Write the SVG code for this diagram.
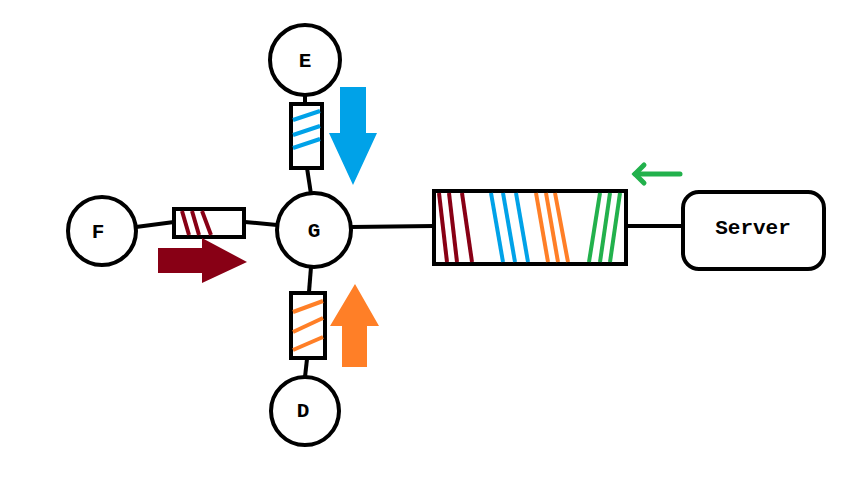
<svg xmlns="http://www.w3.org/2000/svg" width="850" height="481" viewBox="0 0 850 481">
<style>
.node{fill:#fff;stroke:#000;stroke-width:4}
.lbl{font-family:"Liberation Mono",monospace;font-weight:bold;font-size:21px;text-anchor:middle;dominant-baseline:central;fill:#000}
.wire{stroke:#000;stroke-width:4;fill:none}
.res{fill:#fff;stroke:#000;stroke-width:4}
.m{stroke:#880015;stroke-width:4}
.b{stroke:#00A2E8;stroke-width:4}
.o{stroke:#FF7F27;stroke-width:4}
.g{stroke:#22B14C;stroke-width:4}
</style>
<rect width="850" height="481" fill="#fff"/>
<g id="connectors">
<line class="wire" x1="305" y1="94" x2="305" y2="104"/>
<line class="wire" x1="307" y1="168" x2="311" y2="194"/>
<line class="wire" x1="136" y1="227" x2="174" y2="222"/>
<line class="wire" x1="245" y1="222" x2="277" y2="225"/>
<line class="wire" x1="311" y1="267" x2="309" y2="292"/>
<line class="wire" x1="307" y1="359" x2="305" y2="377"/>
<line class="wire" x1="351" y1="227" x2="434" y2="226"/>
<line class="wire" x1="627" y1="226" x2="683" y2="226"/>
</g>
<g id="res-E">
<rect class="res" x="291" y="104" width="31" height="64"/>
<line class="b" x1="293" y1="120" x2="320" y2="111"/>
<line class="b" x1="293" y1="135" x2="320" y2="126"/>
<line class="b" x1="293" y1="148" x2="320" y2="139"/>
</g>
<g id="res-F">
<rect class="res" x="174" y="209" width="70" height="28"/>
<line class="m" x1="182" y1="211" x2="189" y2="235"/>
<line class="m" x1="192" y1="211" x2="199" y2="235"/>
<line class="m" x1="202" y1="211" x2="211" y2="235"/>
</g>
<g id="res-D">
<rect class="res" x="291" y="293" width="34" height="65"/>
<line class="o" x1="293" y1="312" x2="323" y2="301"/>
<line class="o" x1="293" y1="332" x2="323" y2="318"/>
<line class="o" x1="293" y1="350" x2="323" y2="337"/>
</g>
<g id="queue">
<rect class="res" x="434" y="191" width="192" height="73"/>
<line class="m" x1="439" y1="193" x2="447" y2="262"/>
<line class="m" x1="449" y1="193" x2="457" y2="262"/>
<line class="m" x1="462" y1="193" x2="472" y2="262"/>
<line class="b" x1="491" y1="193" x2="503" y2="262"/>
<line class="b" x1="503" y1="193" x2="515" y2="262"/>
<line class="b" x1="516" y1="193" x2="528" y2="262"/>
<line class="o" x1="536" y1="193" x2="548" y2="262"/>
<line class="o" x1="546" y1="193" x2="558" y2="262"/>
<line class="o" x1="555" y1="193" x2="568" y2="262"/>
<line class="g" x1="600" y1="193" x2="589" y2="262"/>
<line class="g" x1="610" y1="193" x2="600" y2="262"/>
<line class="g" x1="620" y1="193" x2="610" y2="262"/>
</g>
<g id="node-E"><circle class="node" cx="305" cy="60" r="35"/><text class="lbl" x="305" y="61">E</text></g>
<g id="node-F"><circle class="node" cx="102" cy="231" r="34"/><text class="lbl" x="98" y="232">F</text></g>
<g id="node-G"><circle class="node" cx="314" cy="230" r="37"/><text class="lbl" x="314" y="231">G</text></g>
<g id="node-D"><circle class="node" cx="305" cy="411" r="34"/><text class="lbl" x="303" y="411">D</text></g>
<g id="node-Server"><rect class="node" x="683" y="192" width="141" height="77" rx="16"/><text class="lbl" x="753" y="228">Server</text></g>
<g id="arrows">
<polygon fill="#00A2E8" points="340,87 366,87 366,133 377,133 353,185 329,133 340,133"/>
<polygon fill="#880015" points="158,248 202,248 202,238 247,262 202,283 202,273 158,273"/>
<polygon fill="#FF7F27" points="342,367 367,367 367,326 379,326 355,284 330,326 342,326"/>
<g stroke="#22B14C" stroke-width="5" stroke-linecap="round" fill="none"><line x1="680" y1="174" x2="635" y2="174"/><polyline points="644,165 635,174 644,183"/></g>
</g>
</svg>
